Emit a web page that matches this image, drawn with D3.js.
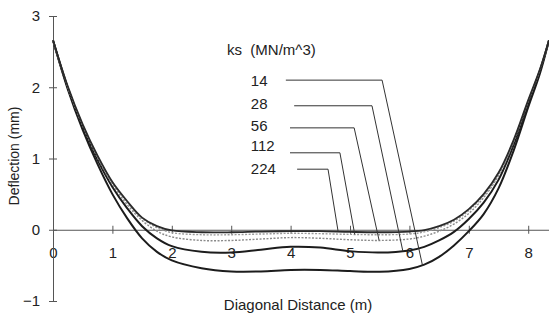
<!DOCTYPE html>
<html>
<head>
<meta charset="utf-8">
<script src="https://cdn.jsdelivr.net/npm/d3@7"></script>
<style>
  html, body { margin: 0; padding: 0; background: #fff; }
  svg { display: block; font-family: "Liberation Sans", Arial, sans-serif; }
</style>
</head>
<body>
<svg id="chart" width="549" height="320"></svg>
<script>
// Slab deflection along the diagonal for several subgrade moduli ks
const distance = [0, 0.25, 0.5, 0.75, 1.0, 1.25, 1.5, 1.75, 2.0, 2.5, 3.0, 3.5, 4.0, 4.5, 5.0, 5.5, 6.0, 6.25, 6.5, 6.75, 7.0, 7.25, 7.5, 7.75, 8.0, 8.2, 8.35];

const ks14  = [2.66, 1.97, 1.40, 0.92, 0.50, 0.16, -0.12, -0.31, -0.43, -0.54, -0.585, -0.585, -0.565, -0.565, -0.58, -0.59, -0.55, -0.49, -0.38, -0.22, -0.02, 0.22, 0.58, 1.10, 1.72, 2.20, 2.66];
const ks28  = [2.66, 1.99, 1.44, 0.98, 0.60, 0.30, 0.05, -0.12, -0.23, -0.31, -0.32, -0.28, -0.24, -0.25, -0.30, -0.32, -0.29, -0.24, -0.15, -0.03, 0.15, 0.38, 0.70, 1.18, 1.78, 2.24, 2.66];
const ks56  = [2.66, 2.00, 1.46, 1.01, 0.64, 0.35, 0.13, -0.02, -0.10, -0.15, -0.15, -0.13, -0.11, -0.12, -0.14, -0.15, -0.13, -0.09, -0.02, 0.08, 0.23, 0.45, 0.76, 1.22, 1.80, 2.25, 2.66];
const ks112 = [2.66, 2.00, 1.47, 1.03, 0.66, 0.38, 0.16, 0.03, -0.04, -0.07, -0.07, -0.06, -0.05, -0.055, -0.065, -0.07, -0.06, -0.03, 0.03, 0.12, 0.27, 0.48, 0.78, 1.24, 1.81, 2.25, 2.66];
const ks224 = [2.66, 2.01, 1.48, 1.04, 0.67, 0.40, 0.17, 0.05, -0.01, -0.035, -0.035, -0.025, -0.02, -0.02, -0.03, -0.035, -0.025, -0.005, 0.05, 0.14, 0.29, 0.50, 0.80, 1.25, 1.82, 2.26, 2.66];

const seriesNames = ["14", "28", "56", "112", "224"];
const seriesValues = [ks14, ks28, ks56, ks112, ks224];

// Leader lines for the ks labels (data units): label height, line row, start, elbow, end on the curve
const labelY   = [2.09, 1.77, 1.46, 1.18, 0.86];
const leaderY  = [2.10, 1.74, 1.43, 1.08, 0.85];
const leaderX0 = [3.92, 4.06, 3.99, 3.99, 4.11];
const leaderX1 = [5.54, 5.37, 5.07, 4.83, 4.63];
const leaderX2 = [6.22, 5.89, 5.49, 5.08, 4.80];
const labelX = 3.33;

const xTicks = [0, 1, 2, 3, 4, 5, 6, 7, 8];
const yTicks = [-1, 0, 1, 2, 3];

const svg = d3.select("#chart");

const x = d3.scaleLinear().domain([0, 8.35]).range([53, 549]);
const y = d3.scaleLinear().domain([-1, 3]).range([301, 16]);

const ink = "#222";
const axisInk = "#555";

// x axis along y = 0, ticks crossing the line
const gx = svg.append("g")
  .attr("transform", `translate(0,${y(0)})`)
  .call(d3.axisBottom(x).tickValues(xTicks).tickFormat(d3.format("d")).tickSizeOuter(0).tickSize(4));
gx.select(".domain").attr("stroke", axisInk).attr("stroke-width", 1);
gx.selectAll(".tick line").attr("y1", -4).attr("y2", 4).attr("stroke", axisInk);
gx.selectAll(".tick text").attr("y", 18).attr("font-size", 15).attr("fill", ink)
  .attr("font-family", "'Liberation Sans', Arial, sans-serif");

// y axis at x = 0
const gy = svg.append("g")
  .attr("transform", `translate(${x(0)},0)`)
  .call(d3.axisLeft(y).tickValues(yTicks).tickFormat(d3.format("d")).tickSizeOuter(0).tickSize(4));
gy.select(".domain").attr("stroke", axisInk).attr("stroke-width", 1);
gy.selectAll(".tick line").attr("x1", -4).attr("x2", 4).attr("stroke", axisInk);
gy.selectAll(".tick text").attr("x", -13).attr("font-size", 15).attr("fill", ink)
  .attr("font-family", "'Liberation Sans', Arial, sans-serif");

// Axis titles
svg.append("text")
  .attr("x", 298).attr("y", 310)
  .attr("text-anchor", "middle").attr("font-size", 15).attr("fill", ink)
  .text("Diagonal Distance (m)");
svg.append("text")
  .attr("transform", "translate(19,156) rotate(-90)")
  .attr("text-anchor", "middle").attr("font-size", 14).attr("fill", ink)
  .text("Deflection (mm)");

// Curves
const line = d3.line()
  .x(d => x(d[0]))
  .y(d => y(d[1]))
  .curve(d3.curveCatmullRom.alpha(0.5));

const styles = {
  "14":  { stroke: "#1c1c1c", width: 2.0, dash: null },
  "28":  { stroke: "#1c1c1c", width: 2.0, dash: null },
  "56":  { stroke: "#8a8a8a", width: 1.4, dash: "2,1.5" },
  "112": { stroke: "#9a9a9a", width: 1.4, dash: "2,1.5" },
  "224": { stroke: "#2a2a2a", width: 1.8, dash: null }
};

const paths = {};
seriesNames.forEach((name, i) => {
  const pts = distance.map((d, j) => [d, seriesValues[i][j]]);
  const st = styles[name];
  paths[name] = svg.append("path")
    .datum(pts)
    .attr("d", line)
    .attr("fill", "none")
    .attr("stroke", st.stroke)
    .attr("stroke-width", st.width)
    .attr("stroke-dasharray", st.dash)
    .attr("stroke-linejoin", "round");
});

// Find where a drawn curve passes a given screen x
function yOnPath(node, px) {
  const len = node.getTotalLength();
  let lo = 0, hi = len;
  for (let k = 0; k < 40; k++) {
    const mid = (lo + hi) / 2;
    if (node.getPointAtLength(mid).x < px) lo = mid; else hi = mid;
  }
  return node.getPointAtLength((lo + hi) / 2).y;
}

// Legend title
svg.append("text")
  .attr("x", x(2.93)).attr("y", y(2.53))
  .attr("dy", "0.35em")
  .attr("font-size", 15).attr("fill", ink)
  .attr("xml:space", "preserve")
  .style("white-space", "pre")
  .text("ks  (MN/m^3)");

// Labels and leader lines
seriesNames.forEach((name, i) => {
  svg.append("text")
    .attr("x", x(labelX)).attr("y", y(labelY[i]))
    .attr("dy", "0.35em")
    .attr("font-size", 15).attr("fill", ink)
    .text(name);
  const endX = x(leaderX2[i]);
  const endY = yOnPath(paths[name].node(), endX);
  svg.append("polyline")
    .attr("points", [
      [x(leaderX0[i]), y(leaderY[i])],
      [x(leaderX1[i]), y(leaderY[i])],
      [endX, endY]
    ].map(p => p.join(",")).join(" "))
    .attr("fill", "none")
    .attr("stroke", "#333")
    .attr("stroke-width", 1);
});
</script>
</body>
</html>
